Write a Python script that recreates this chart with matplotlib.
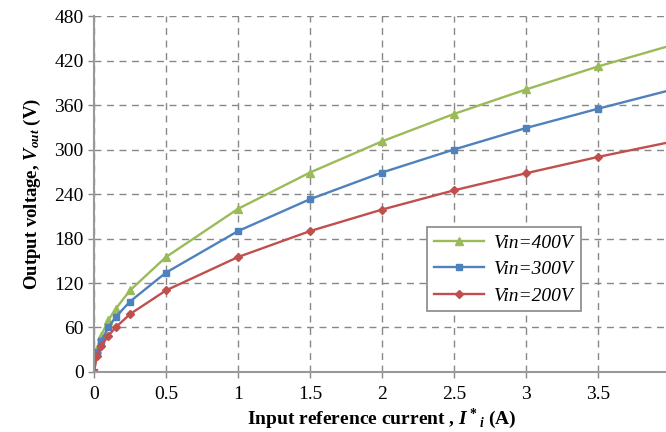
import numpy as np
import matplotlib.pyplot as plt

plt.rcParams['font.family'] = 'Liberation Serif'
plt.rcParams['mathtext.fontset'] = 'custom'
plt.rcParams['mathtext.rm'] = 'Liberation Serif:bold'
plt.rcParams['mathtext.it'] = 'Liberation Serif:italic:bold'
plt.rcParams['mathtext.bf'] = 'Liberation Serif:bold'

# data
current = [0, 0.02, 0.05, 0.1, 0.15, 0.25, 0.5, 1, 1.5, 2, 2.5, 3, 3.5, 4]
v400 = [0, 31, 49, 70, 85, 110, 155, 220, 269, 311, 348, 381, 412, 440]
v300 = [0, 27, 42, 60, 74, 95, 134, 190, 233, 269, 300, 329, 355, 380]
v200 = [0, 22, 35, 49, 60, 78, 110, 155, 190, 219, 245, 268, 290, 310]

xticks = [0, 0.5, 1, 1.5, 2, 2.5, 3, 3.5, 4]
xticklabels = ['0', '0.5', '1', '1.5', '2', '2.5', '3', '3.5', '4']
yticks = [0, 60, 120, 180, 240, 300, 360, 420, 480]

fig = plt.figure(figsize=(6.66, 4.32), dpi=100)
ax = fig.add_axes([0.1411, 0.1389, 0.865, 0.824])

ax.plot(current, v400, color='#9BBB59', marker='^', ms=6, lw=1.7, label='Vin=400V')
ax.plot(current, v300, color='#4F81BD', marker='s', ms=5, lw=1.7, label='Vin=300V')
ax.plot(current, v200, color='#C0504D', marker='D', ms=4.5, lw=1.7, label='Vin=200V')

ax.set_xlim(0, 4)
ax.set_ylim(0, 480)
ax.set_xticks(xticks)
ax.set_xticklabels(xticklabels)
ax.set_yticks(yticks)
ax.tick_params(labelsize=14, color='#888888', length=4, width=1)
ax.tick_params(axis='x', pad=6)
ax.grid(True, ls=(0, (5, 4)), color='#888888', lw=1)
ax.set_axisbelow(True)
for s in ['top', 'right']:
    ax.spines[s].set_visible(False)
for s in ['left', 'bottom']:
    ax.spines[s].set_color('#999999')
    ax.spines[s].set_linewidth(1.5)

ax.set_xlabel('Input reference current , $I^*{}_i$ (A)', fontsize=14, fontweight='bold', labelpad=3)
ax.set_ylabel('Output voltage, $V_{out}$ (V)', fontsize=13.5, fontweight='bold', labelpad=8)

leg = ax.legend(loc='upper left', bbox_to_anchor=(0.5613, 0.4335), prop={'style': 'italic', 'size': 14},
                fancybox=False, edgecolor='#888888', framealpha=1, handlelength=2.6,
                borderpad=0.35, labelspacing=0.45, handletextpad=0.5)
leg.get_frame().set_linewidth(1.2)

fig.savefig('out.png', dpi=100)
